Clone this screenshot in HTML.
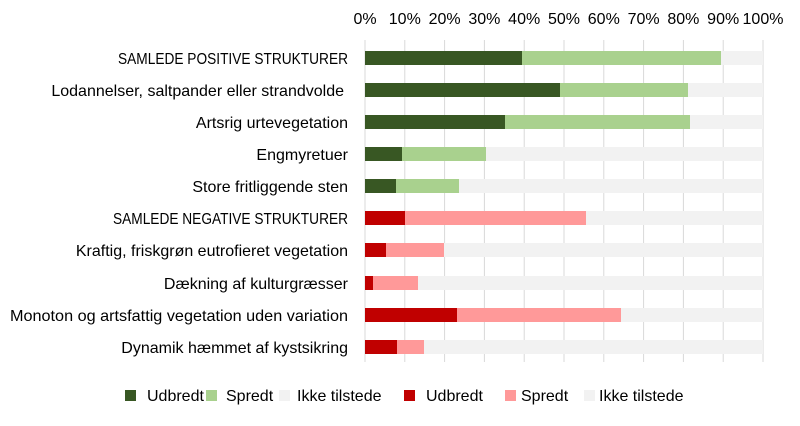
<!DOCTYPE html>
<html><head><meta charset="utf-8"><style>
html,body{margin:0;padding:0;background:#fff;}
text{font-family:"Liberation Sans",sans-serif;font-size:16px;fill:#000;}
</style></head><body>
<svg width="800" height="421" xmlns="http://www.w3.org/2000/svg">
<g stroke="#d9d9d9" stroke-width="1">
<line x1="365" y1="40" x2="365" y2="362"/><line x1="404.8" y1="40" x2="404.8" y2="362"/><line x1="444.6" y1="40" x2="444.6" y2="362"/><line x1="484.4" y1="40" x2="484.4" y2="362"/><line x1="524.2" y1="40" x2="524.2" y2="362"/><line x1="564" y1="40" x2="564" y2="362"/><line x1="603.8" y1="40" x2="603.8" y2="362"/><line x1="643.6" y1="40" x2="643.6" y2="362"/><line x1="683.4" y1="40" x2="683.4" y2="362"/><line x1="723.2" y1="40" x2="723.2" y2="362"/><line x1="763" y1="40" x2="763" y2="362"/>
</g>
<g text-anchor="middle" style="font-size:15px">
<text x="365" y="24">0%</text><text x="404.8" y="24">10%</text><text x="444.6" y="24">20%</text><text x="484.4" y="24">30%</text><text x="524.2" y="24">40%</text><text x="564" y="24">50%</text><text x="603.8" y="24">60%</text><text x="643.6" y="24">70%</text><text x="683.4" y="24">80%</text><text x="723.2" y="24">90%</text><text x="763" y="24">100%</text>
</g>
<g>
<rect x="365" y="51" width="398" height="14" fill="#f2f2f2"/><rect x="365" y="51" width="356" height="14" fill="#a9d18e"/><rect x="365" y="51" width="157" height="14" fill="#385723"/>
<rect x="365" y="83" width="398" height="14" fill="#f2f2f2"/><rect x="365" y="83" width="323" height="14" fill="#a9d18e"/><rect x="365" y="83" width="195" height="14" fill="#385723"/>
<rect x="365" y="115" width="398" height="14" fill="#f2f2f2"/><rect x="365" y="115" width="325" height="14" fill="#a9d18e"/><rect x="365" y="115" width="140" height="14" fill="#385723"/>
<rect x="365" y="147" width="398" height="14" fill="#f2f2f2"/><rect x="365" y="147" width="121" height="14" fill="#a9d18e"/><rect x="365" y="147" width="37" height="14" fill="#385723"/>
<rect x="365" y="179" width="398" height="14" fill="#f2f2f2"/><rect x="365" y="179" width="94" height="14" fill="#a9d18e"/><rect x="365" y="179" width="31" height="14" fill="#385723"/>
<rect x="365" y="211" width="398" height="14" fill="#f2f2f2"/><rect x="365" y="211" width="221" height="14" fill="#ff9999"/><rect x="365" y="211" width="40" height="14" fill="#c00000"/>
<rect x="365" y="243" width="398" height="14" fill="#f2f2f2"/><rect x="365" y="243" width="79" height="14" fill="#ff9999"/><rect x="365" y="243" width="21" height="14" fill="#c00000"/>
<rect x="365" y="276" width="398" height="14" fill="#f2f2f2"/><rect x="365" y="276" width="53" height="14" fill="#ff9999"/><rect x="365" y="276" width="8" height="14" fill="#c00000"/>
<rect x="365" y="308" width="398" height="14" fill="#f2f2f2"/><rect x="365" y="308" width="256" height="14" fill="#ff9999"/><rect x="365" y="308" width="92" height="14" fill="#c00000"/>
<rect x="365" y="340" width="398" height="14" fill="#f2f2f2"/><rect x="365" y="340" width="59" height="14" fill="#ff9999"/><rect x="365" y="340" width="32" height="14" fill="#c00000"/>
</g>
<g text-anchor="end">
<text x="348" y="64" textLength="230" lengthAdjust="spacingAndGlyphs">SAMLEDE POSITIVE STRUKTURER</text>
<text x="344" y="96">Lodannelser, saltpander eller strandvolde</text>
<text x="348" y="128">Artsrig urtevegetation</text>
<text x="348" y="160">Engmyretuer</text>
<text x="348" y="192">Store fritliggende sten</text>
<text x="348" y="224" textLength="235" lengthAdjust="spacingAndGlyphs">SAMLEDE NEGATIVE STRUKTURER</text>
<text x="348" y="256">Kraftig, friskgrøn eutrofieret vegetation</text>
<text x="348" y="289">Dækning af kulturgræsser</text>
<text x="348" y="321" textLength="338" lengthAdjust="spacingAndGlyphs">Monoton og artsfattig vegetation uden variation</text>
<text x="348" y="353">Dynamik hæmmet af kystsikring</text>
</g>
<g style="font-size:15px">
<rect x="125" y="390" width="11" height="11" fill="#385723"/><text x="147" y="401">Udbredt</text>
<rect x="206" y="390" width="11" height="11" fill="#a9d18e"/><text x="226" y="401">Spredt</text>
<rect x="279" y="390" width="11" height="11" fill="#f2f2f2"/><text x="297" y="401">Ikke tilstede</text>
<rect x="404" y="390" width="11" height="11" fill="#c00000"/><text x="426" y="401">Udbredt</text>
<rect x="505" y="390" width="11" height="11" fill="#ff9999"/><text x="521" y="401">Spredt</text>
<rect x="584" y="390" width="11" height="11" fill="#f2f2f2"/><text x="599" y="401">Ikke tilstede</text>
</g>
</svg>
</body></html>
